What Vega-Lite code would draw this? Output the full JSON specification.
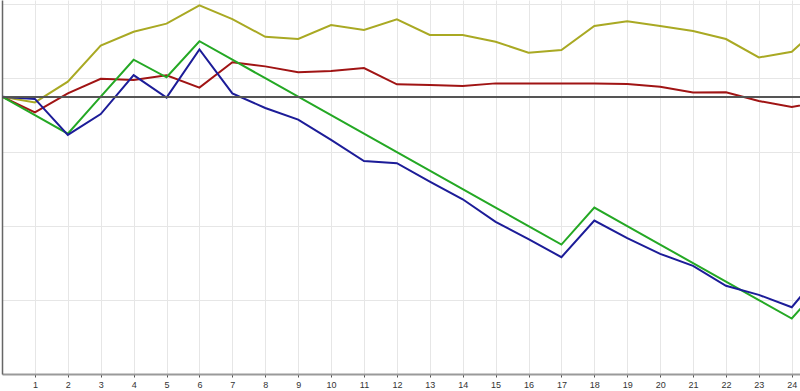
{
  "$schema": "https://vega.github.io/schema/vega-lite/v6.json",
  "width": 798,
  "height": 374,
  "autosize": {"type": "none"},
  "padding": {"left": 2, "top": 0, "right": 0, "bottom": 17},
  "background": "white",
  "config": {"view": {"stroke": null}, "axis": {"labelFont": "Liberation Sans"}},
  "data": {"values": [
    {"x":0,"s":"A","v":0},{"x":1,"s":"A","v":-0.31},{"x":2,"s":"A","v":0.81},{"x":3,"s":"A","v":2.76},{"x":4,"s":"A","v":3.51},{"x":5,"s":"A","v":3.95},{"x":6,"s":"A","v":4.94},{"x":7,"s":"A","v":4.2},{"x":8,"s":"A","v":3.24},{"x":9,"s":"A","v":3.12},{"x":10,"s":"A","v":3.88},{"x":11,"s":"A","v":3.61},{"x":12,"s":"A","v":4.18},{"x":13,"s":"A","v":3.34},{"x":14,"s":"A","v":3.34},{"x":15,"s":"A","v":2.97},{"x":16,"s":"A","v":2.38},{"x":17,"s":"A","v":2.52},{"x":18,"s":"A","v":3.82},{"x":19,"s":"A","v":4.08},{"x":20,"s":"A","v":3.82},{"x":21,"s":"A","v":3.55},{"x":22,"s":"A","v":3.12},{"x":23,"s":"A","v":2.12},{"x":24,"s":"A","v":2.43},{"x":25,"s":"A","v":4.05},
    {"x":0,"s":"B","v":0},{"x":1,"s":"B","v":-0.85},{"x":2,"s":"B","v":0.18},{"x":3,"s":"B","v":0.97},{"x":4,"s":"B","v":0.9},{"x":5,"s":"B","v":1.16},{"x":6,"s":"B","v":0.49},{"x":7,"s":"B","v":1.86},{"x":8,"s":"B","v":1.64},{"x":9,"s":"B","v":1.32},{"x":10,"s":"B","v":1.39},{"x":11,"s":"B","v":1.55},{"x":12,"s":"B","v":0.67},{"x":13,"s":"B","v":0.63},{"x":14,"s":"B","v":0.58},{"x":15,"s":"B","v":0.72},{"x":16,"s":"B","v":0.72},{"x":17,"s":"B","v":0.72},{"x":18,"s":"B","v":0.72},{"x":19,"s":"B","v":0.69},{"x":20,"s":"B","v":0.54},{"x":21,"s":"B","v":0.23},{"x":22,"s":"B","v":0.24},{"x":23,"s":"B","v":-0.23},{"x":24,"s":"B","v":-0.56},{"x":25,"s":"B","v":-0.23},
    {"x":0,"s":"C","v":0},{"x":1,"s":"C","v":-1},{"x":2,"s":"C","v":-2},{"x":3,"s":"C","v":0},{"x":4,"s":"C","v":2},{"x":5,"s":"C","v":1.05},{"x":6,"s":"C","v":3},{"x":7,"s":"C","v":2},{"x":8,"s":"C","v":1},{"x":9,"s":"C","v":0},{"x":10,"s":"C","v":-1},{"x":11,"s":"C","v":-2},{"x":12,"s":"C","v":-3},{"x":13,"s":"C","v":-4},{"x":14,"s":"C","v":-5},{"x":15,"s":"C","v":-6},{"x":16,"s":"C","v":-7},{"x":17,"s":"C","v":-8},{"x":18,"s":"C","v":-6},{"x":19,"s":"C","v":-7},{"x":20,"s":"C","v":-8},{"x":21,"s":"C","v":-9},{"x":22,"s":"C","v":-10},{"x":23,"s":"C","v":-11},{"x":24,"s":"C","v":-12},{"x":25,"s":"C","v":-10},
    {"x":0,"s":"D","v":0},{"x":1,"s":"D","v":-0.12},{"x":2,"s":"D","v":-2.07},{"x":3,"s":"D","v":-0.94},{"x":4,"s":"D","v":1.17},{"x":5,"s":"D","v":-0.05},{"x":6,"s":"D","v":2.56},{"x":7,"s":"D","v":0.18},{"x":8,"s":"D","v":-0.61},{"x":9,"s":"D","v":-1.24},{"x":10,"s":"D","v":-2.34},{"x":11,"s":"D","v":-3.48},{"x":12,"s":"D","v":-3.6},{"x":13,"s":"D","v":-4.59},{"x":14,"s":"D","v":-5.55},{"x":15,"s":"D","v":-6.77},{"x":16,"s":"D","v":-7.71},{"x":17,"s":"D","v":-8.68},{"x":18,"s":"D","v":-6.7},{"x":19,"s":"D","v":-7.65},{"x":20,"s":"D","v":-8.5},{"x":21,"s":"D","v":-9.15},{"x":22,"s":"D","v":-10.23},{"x":23,"s":"D","v":-10.72},{"x":24,"s":"D","v":-11.39},{"x":25,"s":"D","v":-9.26}
  ]},
  "layer": [
    {
      "mark": {"type": "line", "strokeWidth": 2, "clip": true},
      "encoding": {
        "x": {"field": "x", "type": "quantitative", "scale": {"domain": [0, 24.25], "nice": false, "zero": false},
          "axis": {"title": null, "values": [1,2,3,4,5,6,7,8,9,10,11,12,13,14,15,16,17,18,19,20,21,22,23,24], "grid": true, "gridColor": "#e6e6e6", "gridWidth": 1, "domainColor": "#9a9a9a", "domainWidth": 2, "tickColor": "#555555", "tickSize": 3, "labelFontSize": 9, "labelColor": "#333333", "labelPadding": 3}},
        "y": {"field": "v", "type": "quantitative", "scale": {"domain": [-15, 5.23], "nice": false, "zero": false},
          "axis": {"title": null, "labels": false, "ticks": false, "values": [-15,-14,-13,-12,-11,-10,-9,-8,-7,-6,-5,-4,-3,-2,-1,0,1,2,3,4,5], "grid": true, "gridColor": "#e6e6e6", "gridWidth": 1, "domainColor": "#666666", "domainWidth": 1.5}},
        "color": {"field": "s", "type": "nominal", "legend": null,
          "scale": {"domain": ["A","B","C","D"], "range": ["#a9a923", "#a01414", "#24a824", "#1c1c98"]}},
        "order": {"field": "x", "type": "quantitative"}
      }
    },
    {
      "mark": {"type": "rule", "color": "#555555", "strokeWidth": 1},
      "encoding": {"y": {"datum": 0, "type": "quantitative"}}
    }
  ]
}
